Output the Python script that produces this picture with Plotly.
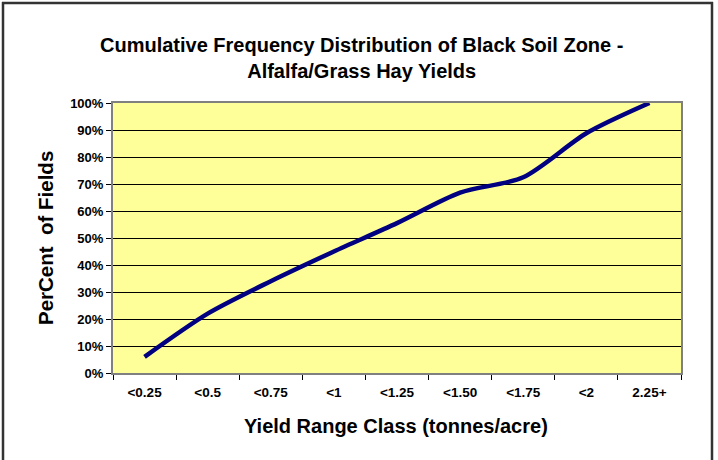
import plotly.graph_objects as go

categories = ["<0.25", "<0.5", "<0.75", "<1", "<1.25", "<1.50", "<1.75", "<2", "2.25+"]
percent_fields = [6, 22, 34, 45, 55.5, 66.8, 72.5, 88.8, 100]
y_ticks = [0, 10, 20, 30, 40, 50, 60, 70, 80, 90, 100]

W, H = 718, 460
L, R, T, B = 113, 37, 103, 87
pw, ph = W - L - R, H - T - B

def px(x):
    return (x - L) / pw

def py(y):
    return (H - B - y) / ph

FONT = "Liberation Sans"

def esc(s):
    return s.replace("<", "&lt;")

fig = go.Figure()
fig.add_trace(go.Scatter(
    x=categories, y=percent_fields, mode="lines",
    line=dict(color="#000080", width=4.5, shape="spline", smoothing=0.8),
    hoverinfo="x+y", showlegend=False,
))

fig.update_layout(
    width=W, height=H,
    margin=dict(l=L, r=R, t=T, b=B, autoexpand=False),
    paper_bgcolor="white",
    plot_bgcolor="#FFFF99",
    font=dict(family=FONT, color="black"),
    xaxis=dict(
        type="category", tickson="boundaries", ticks="outside", ticklen=5,
        tickcolor="black", tickwidth=1,
        tickvals=categories, ticktext=[f"<b>{esc(c)}</b>" for c in categories],
        showgrid=False, showline=True, linecolor="#808080", linewidth=2, mirror=True,
        tickfont=dict(size=13.5, family=FONT), ticklabelstandoff=6,
        range=[-0.5, 8.5], fixedrange=True,
    ),
    yaxis=dict(
        range=[0, 100], tickvals=y_ticks, ticktext=[f"<b>{v}%</b>" for v in y_ticks],
        ticks="outside", ticklen=5, tickcolor="black", tickwidth=1,
        showgrid=True, gridcolor="black", gridwidth=1,
        showline=True, linecolor="#808080", linewidth=2, mirror=True,
        tickfont=dict(size=13, family=FONT),
        zeroline=False, fixedrange=True,
    ),
    annotations=[
        dict(text="<b>Cumulative Frequency Distribution of Black Soil Zone -<br>Alfalfa/Grass Hay Yields</b>",
             xref="paper", yref="paper", x=px(361), y=py(58), xanchor="center", yanchor="middle",
             showarrow=False, font=dict(size=20, family=FONT), align="center"),
        dict(text="<b>Yield Range Class (tonnes/acre)</b>",
             xref="paper", yref="paper", x=px(396), y=py(426), xanchor="center", yanchor="middle",
             showarrow=False, font=dict(size=20, family=FONT)),
        dict(text="<b>PerCent  of Fields</b>",
             xref="paper", yref="paper", x=px(45), y=py(238), xanchor="center", yanchor="middle",
             showarrow=False, textangle=-90, font=dict(size=20.5, family=FONT)),
    ],
    shapes=[
        dict(type="line", xref="paper", yref="paper", x0=px(3), x1=px(3), y0=py(2), y1=py(462),
             line=dict(color="#333333", width=2.5), layer="above"),
        dict(type="line", xref="paper", yref="paper", x0=px(2), x1=px(713), y0=py(3), y1=py(3),
             line=dict(color="#333333", width=2.5), layer="above"),
        dict(type="line", xref="paper", yref="paper", x0=px(712), x1=px(712), y0=py(2), y1=py(462),
             line=dict(color="#333333", width=2.5), layer="above"),
    ],
)

fig.write_html(
    "out.html",
    config={"displayModeBar": False},
    post_script="document.body.style.margin='0';document.body.style.overflow='hidden';",
)
